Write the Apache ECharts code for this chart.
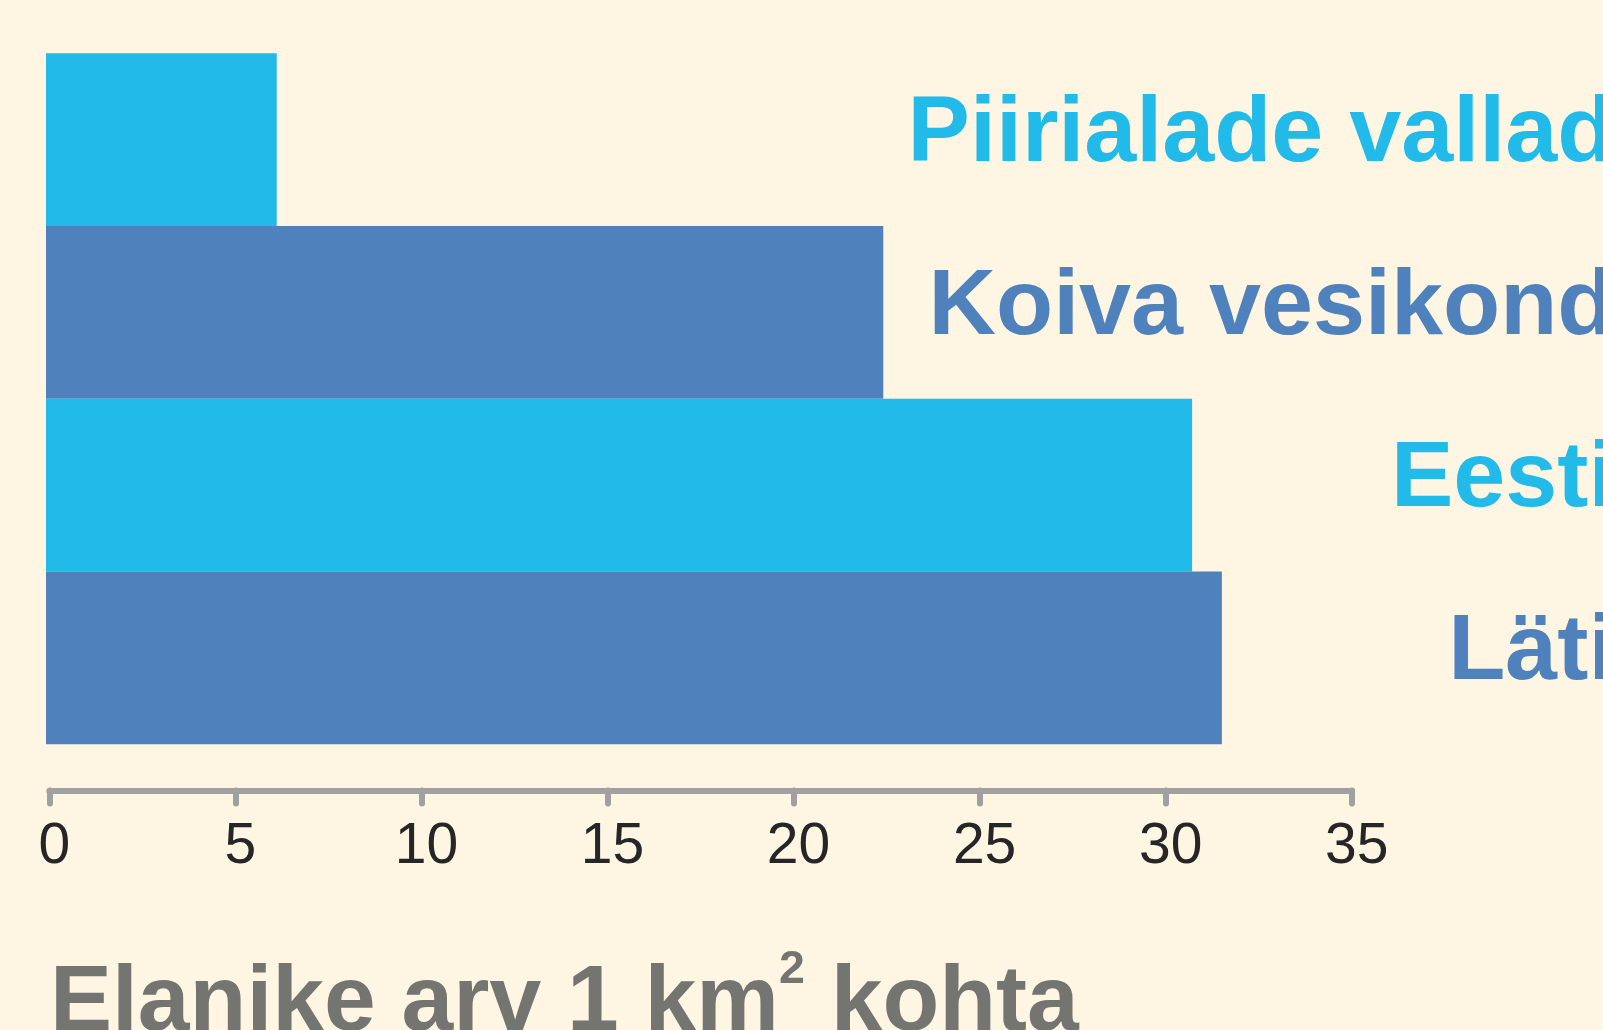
<!DOCTYPE html>
<html><head><meta charset="utf-8">
<script src="https://cdn.jsdelivr.net/npm/echarts@6/dist/echarts.min.js"></script>
<style>html,body{margin:0;padding:0;background:#FEF5E3;} #c{width:1603px;height:1030px;}</style>
</head><body><div id="c"></div>
<script>
const categories = ['Piirialade vallad', 'Koiva vesikond', 'Eesti', 'Läti'];
const values = [6.2, 22.5, 30.8, 31.6];
const tickValues = [0, 5, 10, 15, 20, 25, 30, 35];
const titleMain = 'Elanike arv 1 km';
const titleSup = '2';
const titleEnd = ' kohta';

const palette = ['#21BAE9', '#4F81BD', '#21BAE9', '#4F81BD'];
const FONT = '"Liberation Sans", Arial, Helvetica, sans-serif';
const chart = echarts.init(document.getElementById('c'), null, {renderer: 'canvas'});
const labelRich = {};
palette.forEach((c, i) => {
  labelRich['c' + i] = {color: c, fontSize: 93.5, fontWeight: 'bold', fontFamily: FONT, padding: [0, 0, 9, 0]};
});
const option = {
  backgroundColor: '#FEF5E3',
  animation: false,
  title: {
    text: '{m|' + titleMain + '}{s|' + titleSup + '}{m|' + titleEnd + '}',
    left: 50, top: 946.7, padding: 0,
    textStyle: {
      rich: {
        m: {fontSize: 93, fontWeight: 'bold', fontFamily: FONT, color: '#747470', lineHeight: 114.6},
        s: {fontSize: 46.5, fontWeight: 'bold', fontFamily: FONT, color: '#747470', verticalAlign: 'top'}
      }
    }
  },
  grid: [
    {left: 46, width: 1302.4, top: 53.3, height: 691, outerBoundsMode: 'none', containLabel: false},
    {left: 49.3, width: 1302.4, top: 700, height: 90.5, outerBoundsMode: 'none', containLabel: false}
  ],
  xAxis: [
    {gridIndex: 0, type: 'value', min: 0, max: 35, show: false},
    {
      gridIndex: 1, type: 'value', min: tickValues[0], max: tickValues[tickValues.length - 1],
      interval: tickValues[1] - tickValues[0], position: 'bottom',
      axisLine: {show: true, lineStyle: {color: '#A0A0A0', width: 6, cap: 'round'}},
      axisTick: {show: true, length: 13, lineStyle: {color: '#A0A0A0', width: 6, cap: 'round'}},
      splitLine: {show: false},
      axisLabel: {show: true, margin: 28, fontSize: 57, color: '#262626', fontFamily: FONT,
        padding: [0, 0, 0, 10], showMinLabel: true, showMaxLabel: true}
    }
  ],
  yAxis: [
    {
      gridIndex: 0, type: 'category', data: categories, inverse: true, position: 'right',
      axisLine: {show: false}, axisTick: {show: false}, splitLine: {show: false},
      axisLabel: {
        interval: 0, margin: 266, align: 'right',
        formatter: (v, i) => '{c' + i + '|' + v + '}',
        rich: labelRich
      }
    },
    {gridIndex: 1, type: 'value', show: false}
  ],
  series: [{
    type: 'bar', xAxisIndex: 0, yAxisIndex: 0, barCategoryGap: 0, barGap: 0,
    data: values.map((v, i) => ({value: v, itemStyle: {color: palette[i]}}))
  }]
};
chart.setOption(option);
</script>
</body></html>
